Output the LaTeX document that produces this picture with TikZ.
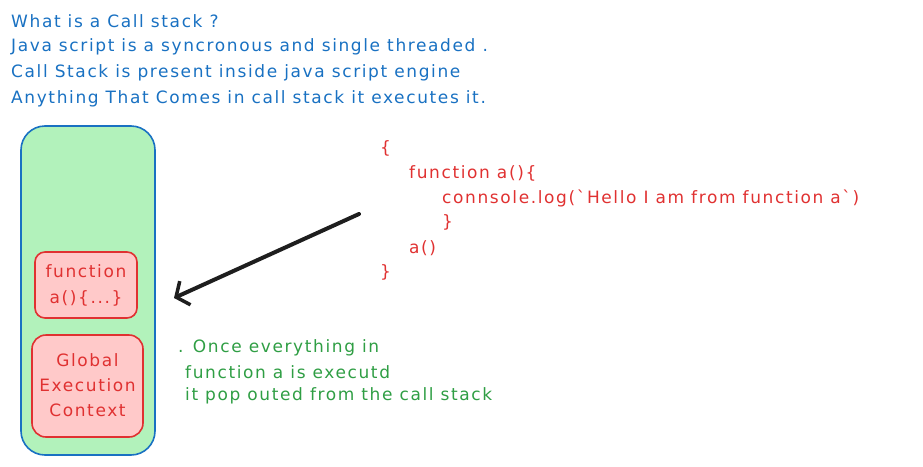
\documentclass[tikz,border=0pt]{standalone}
\usepackage{fontspec}
\setmainfont{DejaVu Sans}[LetterSpace=9.5, Ligatures=TeXOff]
\usetikzlibrary{arrows.meta}
\definecolor{xblue}{HTML}{1971C2}
\definecolor{xgreen}{HTML}{2F9E44}
\definecolor{xred}{HTML}{E03131}
\definecolor{xfillg}{HTML}{B2F2BB}
\definecolor{xfillr}{HTML}{FFC9C9}
\definecolor{xblack}{HTML}{1E1E1E}
\tikzset{
  txt/.style={anchor=west, inner sep=0pt, font=\fontsize{17}{20}\selectfont},
  bluetxt/.style={txt, text=xblue},
  redtxt/.style={txt, text=xred},
  greentxt/.style={txt, text=xgreen},
  stackbox/.style={draw=xblue, fill=xfillg, line width=1.6pt, rounded corners=24pt},
  framebox/.style={draw=xred, fill=xfillr, line width=1.6pt},
  boxtxt/.style={text=xred, align=center, inner sep=0pt},
}
\begin{document}
\begin{tikzpicture}[x=1pt,y=-1pt]
\useasboundingbox (0,0) rectangle (923,466);
% header
\node[bluetxt] (h1) at (11,21) {What is a Call stack ?};
\node[bluetxt] (h2) at (11,47) {Java script is a syncronous and single threaded .};
\node[bluetxt] (h3) at (11,73) {Call Stack is present inside java script engine};
\node[bluetxt] (h4) at (11,99) {Anything That Comes in call stack it executes it.};
% stack
\draw[stackbox] (21,126) rectangle (155,455);
\draw[framebox, rounded corners=10pt] (35,252) rectangle (137,318);
\node[boxtxt, font=\fontsize{17}{26}\selectfont] (fa) at (86,285) {function\\a()\{...\}};
\draw[framebox, rounded corners=14pt] (32,335) rectangle (143,437);
\node[boxtxt, font=\fontsize{17}{25}\selectfont] (gec) at (87.5,385) {Global\\Execution\\Context};
% code
\node[redtxt] (c1) at (380,148) {\{};
\node[redtxt] (c2) at (409,173) {function a()\{};
\node[redtxt] (c3) at (442,198) {connsole.log(`Hello I am from function a`)};
\node[redtxt] (c4) at (442,222) {\}};
\node[redtxt] (c5) at (409,248) {a()};
\node[redtxt] (c6) at (380,272) {\}};
% arrow
\coordinate (as) at (359,214);
\coordinate (ae) at (174,298);
\draw[xblack, line width=4pt, line cap=round, -{Straight Barb[length=10pt,width=26pt,line width=3.5pt]}] (as) -- (ae);
% green note
\node[greentxt] (g1) at (178,348) {. Once everything in};
\node[greentxt] (g2) at (185,372) {function a is executd};
\node[greentxt] (g3) at (185,396) {it pop outed from the call stack};
\end{tikzpicture}
\end{document}
